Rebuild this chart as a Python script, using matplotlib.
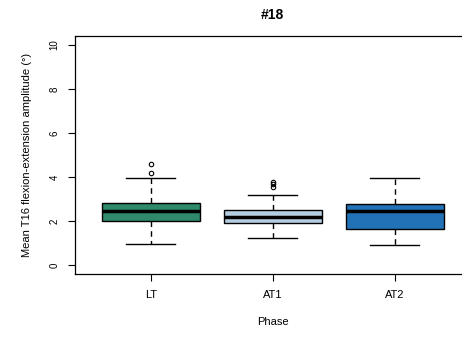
import matplotlib
matplotlib.use("Agg")
import matplotlib.pyplot as plt

# --- datos ---
phases = ['LT', 'AT1', 'AT2']
q1 = [2.01, 1.89, 1.65]
med = [2.45, 2.18, 2.45]
q3 = [2.83, 2.49, 2.77]
whislo = [0.97, 1.21, 0.91]
whishi = [3.94, 3.18, 3.94]
outliers = [[4.17, 4.59], [3.56, 3.67, 3.79], []]
colors = ['#2f896b', '#b5cde1', '#2172b6']

plt.rcParams['font.family'] = ['Liberation Sans', 'DejaVu Sans']

fig = plt.figure(figsize=(4.62, 3.44), dpi=100)
ax = fig.add_axes([0.1623, 0.2041, 0.8563, 0.6907])

stats = []
for i, p in enumerate(phases):
    stats.append(dict(label=p, q1=q1[i], med=med[i], q3=q3[i],
                      whislo=whislo[i], whishi=whishi[i], fliers=outliers[i]))

bp = ax.bxp(stats, positions=[1, 2, 3], widths=0.8, patch_artist=True,
            showfliers=True,
            boxprops=dict(edgecolor='black', linewidth=1.0),
            medianprops=dict(color='black', linewidth=2.5),
            whiskerprops=dict(color='black', linestyle=(0, (4, 3)), linewidth=1.0),
            capprops=dict(color='black', linewidth=1.0),
            flierprops=dict(marker='o', markerfacecolor='none',
                            markeredgecolor='black', markersize=3.2,
                            markeredgewidth=0.8))
for patch, c in zip(bp['boxes'], colors):
    patch.set_facecolor(c)
# tapas de bigote como en R (mitad del ancho de caja)
for cap in bp['caps']:
    x = cap.get_xdata()
    mid = (x[0] + x[1]) / 2
    cap.set_xdata([mid - 0.2, mid + 0.2])

ax.set_xlim(0.38, 3.62)
ax.set_ylim(-0.4, 10.4)
ax.set_yticks([0, 2, 4, 6, 8, 10])
ax.set_xticks([1, 2, 3])
ax.set_xticklabels(phases)
ax.tick_params(axis='y', labelrotation=90, labelsize=7, length=5, pad=6)
ax.tick_params(axis='x', labelsize=8, length=5, pad=7)
for lab in ax.get_yticklabels():
    lab.set_va('center')

ax.spines['right'].set_visible(False)
for s in ax.spines.values():
    s.set_linewidth(0.9)

ax.set_ylabel('Mean T16 flexion-extension amplitude (°)', fontsize=8, labelpad=13)
ax.set_xlabel('Phase', fontsize=8, labelpad=12)
fig.text(0.589, 0.955, '#18', ha='center', va='center', fontsize=10, fontweight='bold')

fig.savefig('out.png', dpi=100)
